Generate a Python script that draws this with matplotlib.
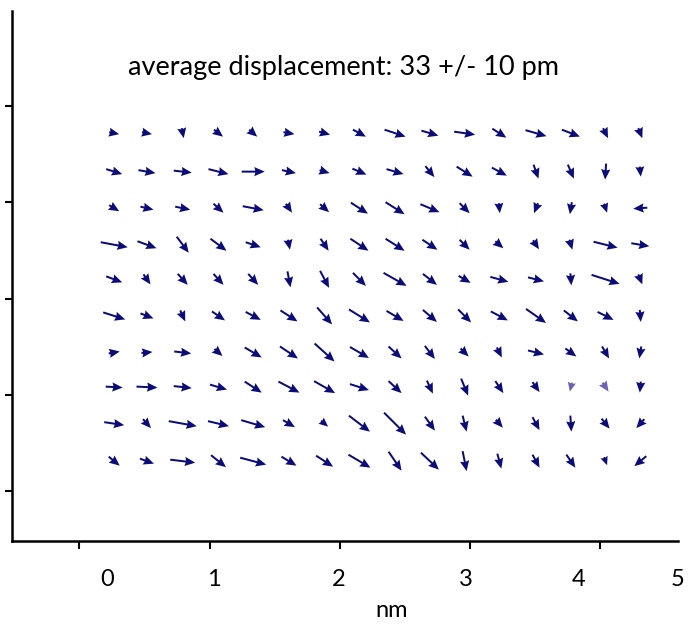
import numpy as np
import matplotlib
matplotlib.use("Agg")
import matplotlib.pyplot as plt

# grid positions (nm on x, arbitrary units on y)
x_cols = [0.267, 0.519, 0.794, 1.069, 1.336, 1.611, 1.885, 2.153,
          2.427, 2.695, 2.962, 3.229, 3.511, 3.779, 4.046, 4.313]
y_rows = [3.72, 3.32, 2.94, 2.56, 2.20, 1.82, 1.44, 1.08, 0.70, 0.31]

# displacement components (screen px, y up)
u = [
    [10, 10, 2, 9, 8, 11, 11, 13, 21, 17, 21, 14, 21, 18, 5, 4],
    [16, 17, 18, 20, 23, 14, 10, 14, 17, 9, 16, 15, 5, 6, -1, 1],
    [10, 13, 15, 10, 21, 6, 9, 17, 19, 19, 10, 1, -4, -2, 3, -14],
    [27, 19, 12, 16, 15, 2, 8, 18, 19, 15, 10, 8, 6, 3, 24, 18],
    [16, 7, 10, 10, 10, 3, 9, 13, 23, 14, 12, 18, 16, 1, 28, 4],
    [22, 13, 5, 13, 15, 17, 15, 21, 17, 14, 13, 17, 20, 14, 16, 1],
    [11, 11, 17, 8, 17, 18, 20, 19, 13, 10, 8, 5, 16, 11, 7, -2],
    [17, 21, 18, 17, 17, 21, 21, 19, 13, 6, 7, 8, 7, -2, 6, -1],
    [20, 8, 28, 21, 24, 12, 7, 21, 22, 10, 4, 7, 7, 1, 8, -8],
    [11, 14, 25, 15, 26, 15, 17, 22, 13, 18, 4, 4, 7, 9, 3, -12],
]
v = [
    [-2, -2, -10, -7, -7, -2, -3, -7, -7, -5, -3, -9, -6, -7, -10, -10],
    [-5, -3, -2, -5, 0, -3, -3, -6, -5, -11, -10, -8, -14, -14, -16, -10],
    [-6, -3, -3, -9, -4, -9, -8, -11, -12, -8, -10, -10, -10, -12, -9, -1],
    [-5, -7, -16, -12, -5, -10, -12, -12, -12, -10, -10, -7, -9, -10, -6, -3],
    [-6, -10, -11, -11, -11, -16, -17, -13, -13, -11, -7, -5, -4, -12, -9, -10],
    [-7, -5, -11, -9, -8, -11, -17, -13, -10, -12, -13, -9, -14, -11, -8, -12],
    [2, 1, -2, -7, -10, -12, -18, -11, -12, -13, -8, -10, -4, -8, -12, -12],
    [-1, -1, -2, -5, -11, -11, -12, -6, -12, -13, -17, -12, -10, -9, -9, -11],
    [-3, -9, -5, -5, -7, -7, -6, -16, -22, -14, -16, -8, -13, -16, -10, -9],
    [-9, -5, -3, -12, -7, -9, -11, -13, -19, -17, -20, -15, -13, -13, -8, -10],
]
faded = [(7, 13), (7, 14)]  # (row, col) of the paler arrows

x_ticks = [0, 1, 2, 3, 4]
x_label_pos = [0.215, 1.031, 1.992, 2.969, 3.840, 4.603]
x_labels = ["0", "1", "2", "3", "4", "5"]
y_ticks = [0, 1, 2, 3, 4]

plt.rcParams['font.family'] = ['Lato', 'DejaVu Sans']

fig = plt.figure(figsize=(6.91, 6.28), dpi=100)
ax = fig.add_axes([12 / 691, 87 / 628, 666 / 691, 530 / 628])

X, Y = np.meshgrid(x_cols, y_rows)
U = np.array(u, dtype=float)
V = np.array(v, dtype=float)
colors = np.full(U.shape, '#0c0c78', dtype=object)
for r, c in faded:
    colors[r, c] = '#6b62b8'

ax.quiver(X, Y, U, V, color=list(colors.ravel()), units='dots', angles='uv',
          scale_units='dots', scale=1, width=2.0, headwidth=4.6,
          headlength=5.2, headaxislength=4.7, pivot='middle')

ax.set_xlim(-0.519, 4.565)
ax.set_ylim(-0.52, 4.99)

for s in ['top', 'right']:
    ax.spines[s].set_visible(False)
for s in ['left', 'bottom']:
    ax.spines[s].set_linewidth(1.8)

ax.set_xticks(x_ticks)
ax.set_xticklabels([])
ax.set_xticks(x_label_pos, minor=True)
ax.set_xticklabels(x_labels, minor=True, fontsize=17)
ax.tick_params(axis='x', which='major', length=6, width=1.5, direction='out')
ax.tick_params(axis='x', which='minor', length=0, pad=20)
ax.set_yticks(y_ticks)
ax.set_yticklabels([])
ax.tick_params(axis='y', which='major', length=5, width=1.5, direction='out')

ax.set_xlabel('nm', fontsize=17)
ax.xaxis.set_label_coords(0.57, -0.112)

ax.text(0.497, 0.894, 'average displacement: 33 +/- 10 pm', transform=ax.transAxes,
        ha='center', va='center', fontsize=19.5)

fig.savefig('out.png', dpi=100)
